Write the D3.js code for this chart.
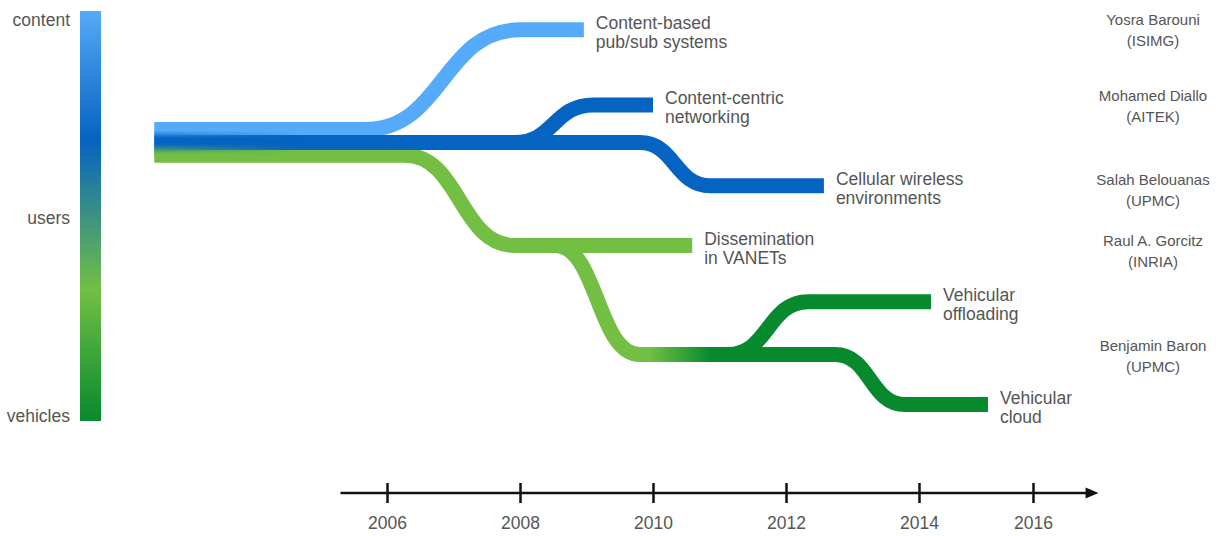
<!DOCTYPE html>
<html>
<head>
<meta charset="utf-8">
<script src="https://cdn.jsdelivr.net/npm/d3@7"></script>
<style>
  html, body { margin: 0; padding: 0; background: #fff; }
  svg { display: block; }
  text { font-family: "Liberation Sans", Arial, Helvetica, sans-serif; fill: #555; }
</style>
</head>
<body>
<svg id="chart" width="1230" height="536"></svg>
<script>
// ---------------- data ----------------
// colours of the topic spectrum
const lightBlue = "#55aaf9", darkBlue = "#0563c1", lightGreen = "#72bf44", darkGreen = "#078a2e";

// spectrum (0 = content ... 1 = vehicles)
const spectrumLabels = ["content", "users", "vehicles"];
const spectrumLevels = [0.022, 0.505, 0.988];
const spectrumStops = [0, 0.315, 0.68, 1];
const spectrumColors = [lightBlue, darkBlue, lightGreen, darkGreen];

// timeline
const tickYears = [2006, 2008, 2010, 2012, 2014, 2016];
const axisExtent = [2005.3, 2017.15];

// research streams: [year, level on the spectrum]
const streamNames = ["pubsub", "cellular", "ccn", "vanet", "cloud", "offloading"];
const pubsubPts     = [[2002.5, 0.289], [2005.68, 0.289], [2008.0, 0.046], [2008.96, 0.046]];
const cellularPts   = [[2002.5, 0.321], [2009.8, 0.321], [2010.86, 0.426], [2012.57, 0.426]];
const ccnPts        = [[2007.92, 0.321], [2009.1, 0.229], [2010.0, 0.229]];
const vanetPts      = [[2002.5, 0.352], [2006.27, 0.352], [2007.92, 0.572], [2010.59, 0.572]];
const cloudPts      = [[2008.53, 0.572], [2009.8, 0.838], [2012.74, 0.838], [2013.79, 0.96], [2015.21, 0.96]];
const offloadingPts = [[2011.13, 0.838], [2012.33, 0.709], [2014.21, 0.709]];

const streamLabels = [
  ["Content-based", "pub/sub systems"],
  ["Cellular wireless", "environments"],
  ["Content-centric", "networking"],
  ["Dissemination", "in VANETs"],
  ["Vehicular", "cloud"],
  ["Vehicular", "offloading"]
];
// transition from light green to dark green on the vehicular stream (years)
const vehicularBlend = [2009.95, 2010.86];
// blurred start of the trunk (years)
const trunkBlur = [2002.5, 2004.7];

// authors
const authorNames = ["Yosra Barouni", "Mohamed Diallo", "Salah Belouanas", "Raul A. Gorcitz", "Benjamin Baron"];
const authorLabs  = ["(ISIMG)", "(AITEK)", "(UPMC)", "(INRIA)", "(UPMC)"];
const authorLevels = [0.022, 0.207, 0.412, 0.559, 0.817];

// ---------------- layout ----------------
const W = 1230, H = 536;
const svg = d3.select("#chart");
const defs = svg.append("defs");

const x = d3.scaleLinear().domain([2006, 2014, 2016]).range([387, 919, 1033]);
const y = d3.scaleLinear().domain([0, 1]).range([11, 421]);
const axisY = 493;
const strokeW = 15;
const labelSize = 17.5;

// ---------------- spectrum bar ----------------
const barGrad = defs.append("linearGradient").attr("id", "barGrad")
  .attr("x1", 0).attr("y1", 0).attr("x2", 0).attr("y2", 1);
spectrumStops.forEach((s, i) => barGrad.append("stop").attr("offset", s).attr("stop-color", spectrumColors[i]));
svg.append("rect").attr("x", 80).attr("y", y(0)).attr("width", 21).attr("height", y(1) - y(0))
  .attr("fill", "url(#barGrad)");
svg.selectAll("text.spec").data(spectrumLabels).enter().append("text")
  .attr("class", "spec")
  .attr("x", 70).attr("y", (d, i) => y(spectrumLevels[i]))
  .attr("dy", "0.36em")
  .attr("text-anchor", "end")
  .style("font-size", labelSize + "px")
  .text(d => d);

// ---------------- streams ----------------
const line = d3.line().x(d => x(d[0])).y(d => y(d[1])).curve(d3.curveBumpX);

const vehGrad = defs.append("linearGradient").attr("id", "vehGrad")
  .attr("gradientUnits", "userSpaceOnUse")
  .attr("x1", x(vehicularBlend[0])).attr("x2", x(vehicularBlend[1]))
  .attr("y1", 0).attr("y2", 0);
vehGrad.append("stop").attr("offset", 0).attr("stop-color", lightGreen);
vehGrad.append("stop").attr("offset", 1).attr("stop-color", darkGreen);

const streamData = [
  { pts: pubsubPts, color: lightBlue, label: streamLabels[0] },
  { pts: vanetPts, color: lightGreen, label: streamLabels[3] },
  { pts: cloudPts, color: "url(#vehGrad)", label: streamLabels[4] },
  { pts: offloadingPts, color: darkGreen, label: streamLabels[5] },
  { pts: ccnPts, color: darkBlue, label: streamLabels[2] },
  { pts: cellularPts, color: darkBlue, label: streamLabels[1] }
];

svg.append("g").selectAll("path").data(streamData).enter().append("path")
  .attr("d", d => line(d.pts))
  .attr("fill", "none")
  .attr("stroke", d => d.color)
  .attr("stroke-width", strokeW)
  .attr("stroke-linecap", "butt");

// blurred start of the trunk
const trunkGrad = defs.append("linearGradient").attr("id", "trunkGrad")
  .attr("x1", 0).attr("y1", 0).attr("x2", 0).attr("y2", 1);
[[0, lightBlue], [0.3, darkBlue], [0.52, darkBlue], [0.92, lightGreen], [1, lightGreen]]
  .forEach(s => trunkGrad.append("stop").attr("offset", s[0]).attr("stop-color", s[1]));
const fadeGrad = defs.append("linearGradient").attr("id", "fadeGrad")
  .attr("x1", 0).attr("y1", 0).attr("x2", 1).attr("y2", 0);
fadeGrad.append("stop").attr("offset", 0).attr("stop-color", "#fff").attr("stop-opacity", 1);
fadeGrad.append("stop").attr("offset", 1).attr("stop-color", "#fff").attr("stop-opacity", 0);
const trunkTop = y(pubsubPts[0][1]) + 1, trunkBot = y(vanetPts[0][1]) + 1;
const mask = defs.append("mask").attr("id", "trunkMask");
mask.append("rect").attr("x", x(trunkBlur[0])).attr("y", trunkTop)
  .attr("width", x(trunkBlur[1]) - x(trunkBlur[0])).attr("height", trunkBot - trunkTop)
  .attr("fill", "url(#fadeGrad)");
svg.append("rect").attr("x", x(trunkBlur[0])).attr("y", trunkTop)
  .attr("width", x(trunkBlur[1]) - x(trunkBlur[0])).attr("height", trunkBot - trunkTop)
  .attr("fill", "url(#trunkGrad)")
  .attr("mask", "url(#trunkMask)");

// stream labels
streamData.forEach(d => {
  const end = d.pts[d.pts.length - 1];
  const t = svg.append("text")
    .attr("x", x(end[0]) + 12)
    .attr("y", y(end[1]) - 1)
    .style("font-size", labelSize + "px");
  t.append("tspan").attr("x", x(end[0]) + 12).text(d.label[0]);
  t.append("tspan").attr("x", x(end[0]) + 12).attr("dy", "1.12em").text(d.label[1]);
});

// ---------------- authors ----------------
authorNames.forEach((n, i) => {
  const t = svg.append("text")
    .attr("x", 1153).attr("y", y(authorLevels[i]))
    .attr("dy", "0.36em")
    .attr("text-anchor", "middle")
    .style("font-size", "15px");
  t.append("tspan").attr("x", 1153).text(n);
  t.append("tspan").attr("x", 1153).attr("dy", "1.4em").text(authorLabs[i]);
});

// ---------------- time axis ----------------
const axis = d3.axisBottom(x).tickValues(tickYears).tickFormat(d3.format("d"))
  .tickSizeInner(10).tickSizeOuter(0).tickPadding(14);
const axisG = svg.append("g").attr("transform", `translate(0,${axisY})`).call(axis);
axisG.select(".domain").remove();
axisG.selectAll(".tick line").attr("y1", -10).attr("y2", 10)
  .attr("stroke", "#111").attr("stroke-width", 2.5);
axisG.selectAll(".tick text")
  .style("font-family", "'Liberation Sans', Arial, sans-serif")
  .style("font-size", labelSize + "px")
  .attr("fill", "#555");

const tipX = x(axisExtent[1]);
axisG.append("line").attr("x1", x(axisExtent[0])).attr("x2", tipX - 10)
  .attr("y1", 0).attr("y2", 0).attr("stroke", "#111").attr("stroke-width", 2.5);
axisG.append("path")
  .attr("d", `M${tipX},0 L${tipX - 13},-5.5 L${tipX - 13},5.5 Z`)
  .attr("fill", "#111");
</script>
</body>
</html>
